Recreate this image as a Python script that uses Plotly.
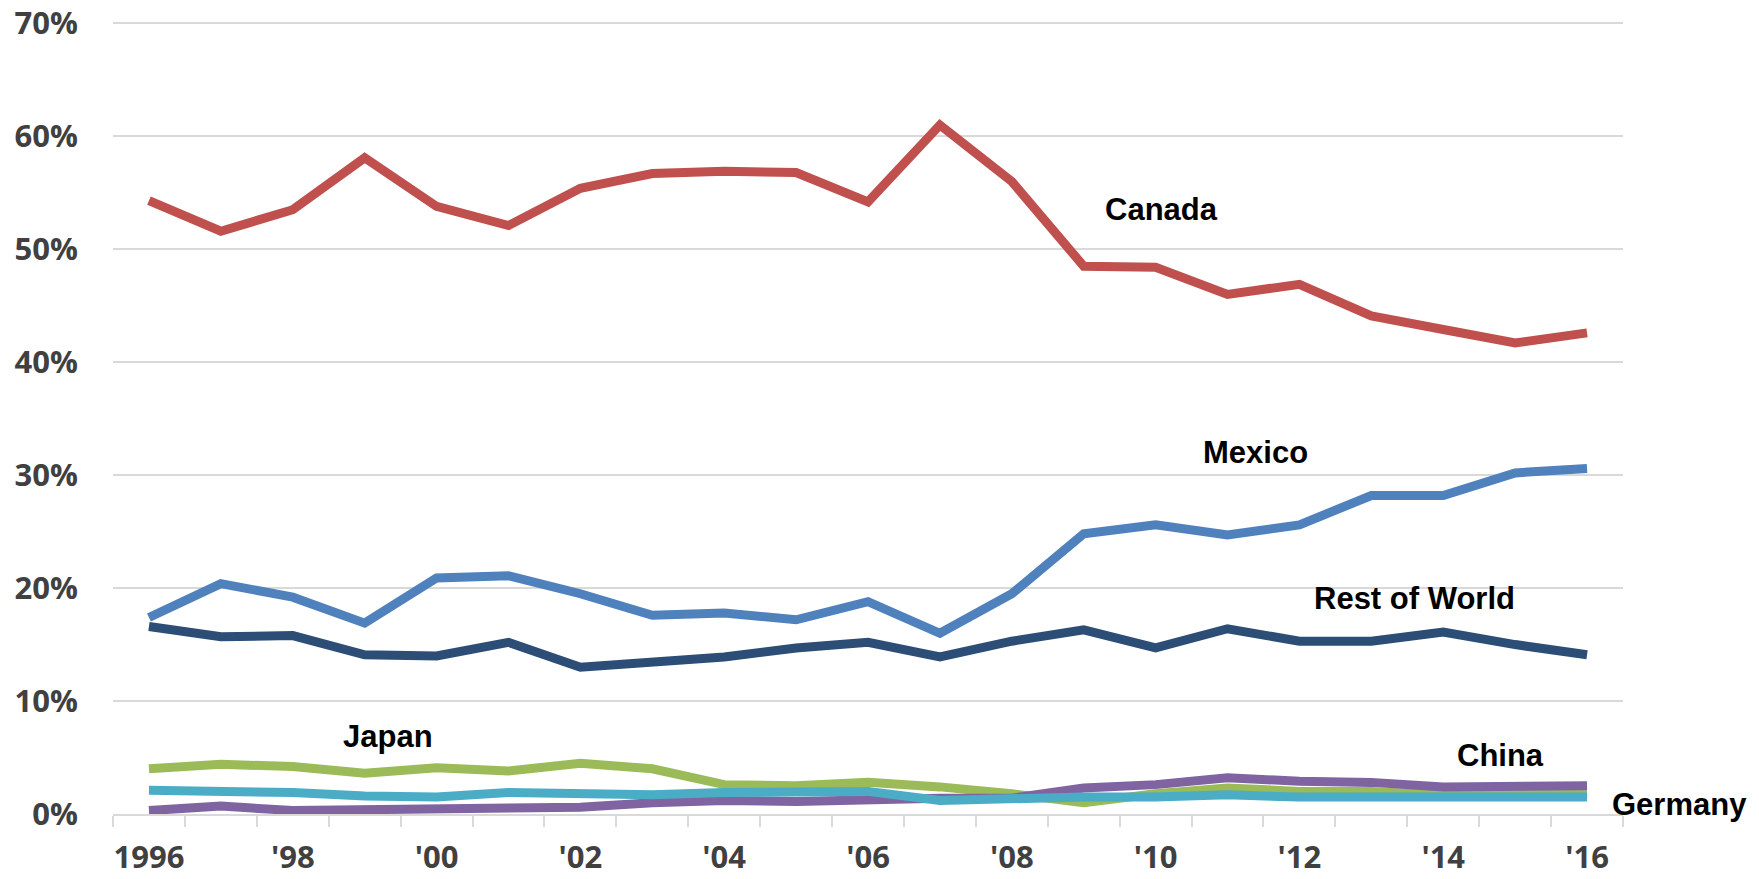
import plotly.graph_objects as go

years = list(range(1996, 2017))
canada = [54.3, 51.6, 53.5, 58.1, 53.8, 52.1, 55.4, 56.7, 56.9, 56.8, 54.2, 61.0, 56.0, 48.5, 48.4, 46.0, 46.9, 44.1, 42.9, 41.7, 42.6]
mexico = [17.4, 20.4, 19.2, 16.9, 20.9, 21.1, 19.5, 17.6, 17.8, 17.2, 18.8, 16.0, 19.5, 24.8, 25.6, 24.7, 25.6, 28.2, 28.2, 30.2, 30.6]
rest_of_world = [16.6, 15.7, 15.8, 14.1, 14.0, 15.2, 13.0, 13.4, 13.9, 14.7, 15.2, 13.9, 15.3, 16.3, 14.7, 16.4, 15.3, 15.3, 16.1, 15.0, 14.1]
japan = [4.0, 4.4, 4.2, 3.6, 4.1, 3.8, 4.5, 4.0, 2.6, 2.5, 2.8, 2.4, 1.8, 1.0, 1.8, 2.3, 2.0, 2.0, 1.7, 1.8, 1.9]
china = [0.3, 0.7, 0.3, 0.4, 0.4, 0.5, 0.6, 1.0, 1.2, 1.1, 1.3, 1.4, 1.4, 2.3, 2.6, 3.2, 2.9, 2.8, 2.4, 2.5, 2.5]
germany = [2.1, 2.0, 1.9, 1.6, 1.5, 1.9, 1.8, 1.7, 1.9, 1.9, 2.0, 1.2, 1.4, 1.5, 1.5, 1.7, 1.5, 1.5, 1.5, 1.5, 1.5]

tick_years = list(range(1996, 2017, 2))
tick_labels = ["1996", "'98", "'00", "'02", "'04", "'06", "'08", "'10", "'12", "'14", "'16"]
y_ticks = [0, 10, 20, 30, 40, 50, 60, 70]

series = [
    ("Canada", canada, "#C0504D"),
    ("Mexico", mexico, "#4F81BD"),
    ("Rest of World", rest_of_world, "#2C4D75"),
    ("Japan", japan, "#9BBB59"),
    ("China", china, "#8064A2"),
    ("Germany", germany, "#4BACC6"),
]

fig = go.Figure()
for name, vals, color in series:
    fig.add_trace(go.Scatter(
        x=years, y=vals, mode="lines", name=name,
        line=dict(color=color, width=9),
        hoverinfo="skip",
    ))

label_font = dict(family="Liberation Sans, Arial, sans-serif", size=31, color="#000000", weight="bold")
labels = [
    ("Canada", 2010.08, 53.5, "x", "y"),
    ("Mexico", 2011.39, 32.0, "x", "y"),
    ("Rest of World", 2013.6, 19.1, "x", "y"),
    ("Japan", 1999.32, 6.9, "x", "y"),
    ("China", 2014.79, 5.2, "x", "y"),
]
for text, x, y, xr, yr in labels:
    fig.add_annotation(x=x, y=y, xref=xr, yref=yr, text=text, showarrow=False,
                       font=label_font, xanchor="center", yanchor="middle")
fig.add_annotation(x=1.0377, y=0.0114, xref="paper", yref="paper", text="Germany",
                   showarrow=False, font=label_font, xanchor="center", yanchor="middle")

tick_font = dict(family="Open Sans, sans-serif", size=31, color="#404040", weight="bold")

fig.update_layout(
    width=1759, height=879,
    margin=dict(l=113, r=136, t=20, b=65),
    paper_bgcolor="white", plot_bgcolor="white",
    showlegend=False,
    xaxis=dict(
        range=[1995.5, 2016.5], automargin=False,
        tickmode="array", tickvals=tick_years, ticktext=tick_labels,
        ticks="", showgrid=False, zeroline=False,
        showline=True, linecolor="#D9D9D9", linewidth=2,
        tickfont=tick_font, ticklabelstandoff=15,
        minor=dict(tickmode="array", tickvals=[y - 0.5 for y in years] + [2016.5],
                   ticks="outside", ticklen=11, tickwidth=2, tickcolor="#D9D9D9",
                   showgrid=False),
    ),
    yaxis=dict(
        range=[0, 70.3], automargin=False,
        tickmode="array", tickvals=y_ticks, ticktext=[f"{v}%" for v in y_ticks],
        showgrid=True, gridcolor="#D9D9D9", gridwidth=1.5,
        zeroline=False, showline=False, ticks="",
        tickfont=tick_font, ticklabelstandoff=34,
    ),
)

fig.write_html("out.html")
